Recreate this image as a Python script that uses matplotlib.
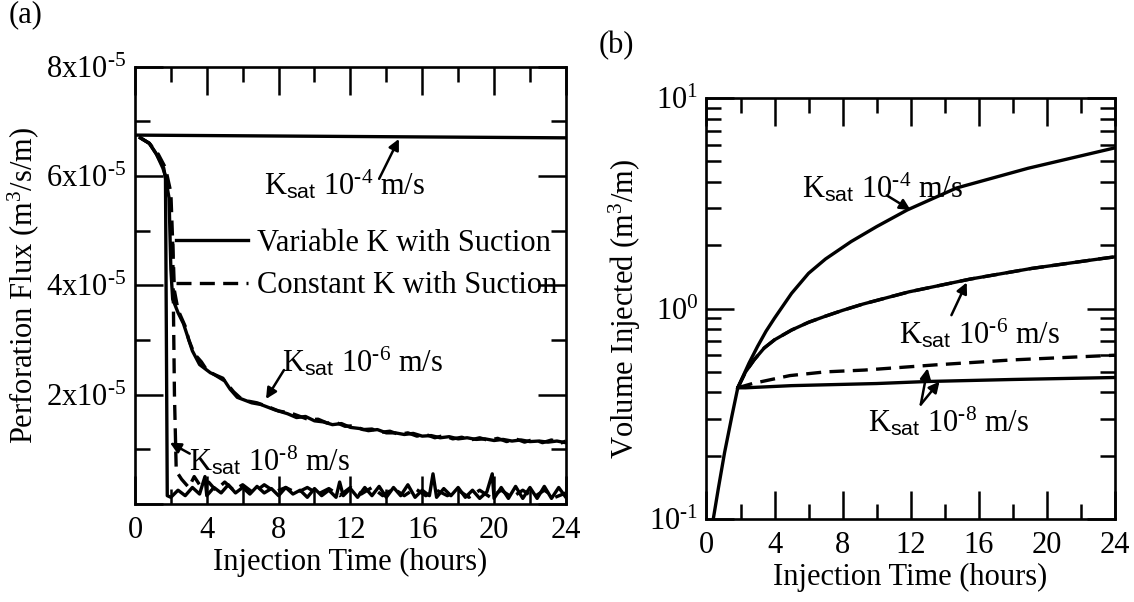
import numpy as np
import matplotlib
matplotlib.use("Agg")
import matplotlib.pyplot as plt
from matplotlib.ticker import MultipleLocator, LogLocator, NullFormatter

plt.rcParams['font.family'] = ['Liberation Serif', 'DejaVu Serif']
plt.rcParams['mathtext.fontset'] = 'custom'
plt.rcParams['mathtext.rm'] = 'Liberation Serif'
plt.rcParams['mathtext.it'] = 'Liberation Serif:italic'
plt.rcParams['mathtext.sf'] = 'Liberation Sans'
plt.rcParams['font.size'] = 22

# ---- panel (a): perforation flux, values in units of 1e-5 m3/s/m ----
t_a_k4 = [0.0, 24.0]
q_a_k4 = [6.75, 6.70]

t_a_k6_var = [0.3, 0.8, 1.2, 1.6, 1.9, 2.0, 2.1, 2.4, 2.7, 3.2, 3.6, 4.2, 4.9, 5.3, 5.7,
              6.5, 7.0, 7.8, 8.5, 9.0, 9.5, 10.0, 10.5, 11.0, 11.5, 12.0, 12.5, 13.0,
              13.5, 14.0, 14.5, 15.0, 15.5, 16.0, 16.5, 17.0, 17.5, 18.0, 18.5, 19.0,
              19.5, 20.0, 20.5, 21.0, 21.5, 22.0, 22.5, 23.0, 23.5, 24.0]
q_a_k6_var = [6.7, 6.6, 6.4, 6.15, 5.6, 4.3, 3.75, 3.5, 3.3, 2.8, 2.55, 2.4, 2.3, 2.1, 1.95,
              1.85, 1.82, 1.72, 1.65, 1.58, 1.6, 1.52, 1.5, 1.45, 1.47, 1.4, 1.38, 1.34,
              1.36, 1.3, 1.3, 1.27, 1.29, 1.24, 1.25, 1.21, 1.23, 1.19, 1.21, 1.18,
              1.19, 1.16, 1.18, 1.15, 1.17, 1.14, 1.15, 1.13, 1.15, 1.12]

t_a_k6_con = [0.3, 0.8, 1.3, 1.7, 2.0, 2.1, 2.2, 2.4, 2.8, 3.0, 3.3, 3.7, 4.0, 4.5, 5.0,
              5.5, 6.0, 6.8, 7.4, 8.0, 8.7, 9.2, 9.7, 10.2, 10.7, 11.2, 11.7, 12.2,
              12.7, 13.2, 13.7, 14.2, 14.7, 15.2, 15.7, 16.2, 16.7, 17.2, 17.7, 18.2,
              18.7, 19.2, 19.7, 20.2, 20.7, 21.2, 21.7, 22.2, 22.7, 23.2, 23.7, 24.0]
q_a_k6_con = [6.7, 6.6, 6.4, 6.15, 5.7, 4.8, 3.9, 3.55, 3.25, 3.0, 2.75, 2.6, 2.45, 2.35,
              2.25, 2.05, 1.9, 1.85, 1.78, 1.7, 1.66, 1.6, 1.54, 1.55, 1.48, 1.49, 1.42,
              1.43, 1.36, 1.37, 1.31, 1.33, 1.27, 1.3, 1.24, 1.27, 1.21, 1.25, 1.19,
              1.22, 1.17, 1.21, 1.16, 1.2, 1.14, 1.19, 1.13, 1.18, 1.12, 1.17, 1.11, 1.15]

t_a_k8_var = [0.3, 0.8, 1.2, 1.55, 1.7, 1.8, 2.0, 2.4, 2.8, 3.2, 3.6, 3.9, 4.0, 4.4, 4.8,
              5.2, 5.6, 6.0, 6.4, 6.8, 7.2, 7.6, 8.0, 8.4, 8.8, 9.2, 9.6, 10.0, 10.4,
              10.8, 11.2, 11.4, 11.6, 12.0, 12.4, 12.8, 13.2, 13.6, 14.0, 14.4, 14.8,
              15.2, 15.6, 16.0, 16.4, 16.6, 16.8, 17.2, 17.6, 18.0, 18.4, 18.8, 19.2,
              19.6, 19.9, 20.0, 20.4, 20.8, 21.2, 21.6, 22.0, 22.4, 22.8, 23.2, 23.6, 24.0]
q_a_k8_var = [6.7, 6.6, 6.4, 6.15, 6.0, 0.15, 0.12, 0.25, 0.15, 0.3, 0.18, 0.5, 0.15, 0.3,
              0.2, 0.35, 0.2, 0.3, 0.18, 0.32, 0.2, 0.28, 0.15, 0.3, 0.18, 0.25, 0.12,
              0.28, 0.15, 0.25, 0.12, 0.4, 0.15, 0.28, 0.12, 0.3, 0.15, 0.32, 0.12, 0.3,
              0.15, 0.35, 0.12, 0.25, 0.15, 0.55, 0.12, 0.28, 0.15, 0.3, 0.12, 0.25, 0.1,
              0.22, 0.55, 0.1, 0.3, 0.1, 0.32, 0.1, 0.3, 0.1, 0.32, 0.1, 0.3, 0.12]

t_a_k8_con = [2.1, 2.2, 2.3, 2.6, 3.0, 3.3, 3.7, 4.1, 4.5, 5.0, 5.5, 6.0, 6.6, 7.2, 7.8,
              8.4, 9.0, 9.6, 10.2, 10.8, 11.4, 12.0, 12.6, 13.2, 13.8, 14.4, 15.0, 15.6,
              16.2, 16.8, 17.4, 18.0, 18.6, 19.2, 19.8, 20.4, 21.0, 21.6, 22.2, 22.8,
              23.4, 24.0]
q_a_k8_con = [4.8, 2.0, 0.6, 0.45, 0.3, 0.5, 0.3, 0.4, 0.25, 0.4, 0.25, 0.35, 0.2, 0.35,
              0.22, 0.3, 0.2, 0.3, 0.18, 0.28, 0.15, 0.3, 0.18, 0.3, 0.15, 0.28, 0.15,
              0.28, 0.15, 0.25, 0.15, 0.25, 0.12, 0.25, 0.12, 0.25, 0.12, 0.25, 0.12,
              0.25, 0.12, 0.2]

# ---- panel (b): cumulative volume injected, m3/m ----
t_b_k4 = [0.4, 0.7, 1.06, 1.5, 1.84, 2.5, 3.0, 3.5, 4.0, 5.0, 6.0, 7.0, 8.5, 10.0,
          11.8, 14.7, 18.9, 24.0]
v_b_k4 = [0.1, 0.14, 0.206, 0.31, 0.42, 0.55, 0.66, 0.78, 0.9, 1.18, 1.47, 1.72, 2.08,
          2.45, 2.94, 3.74, 4.64, 5.8]

t_b_k6 = [1.84, 2.3, 2.8, 3.4, 4.0, 5.0, 6.0, 7.0, 8.0, 9.2, 11.9, 15.5, 19.1, 23.3, 24.0]
v_b_k6 = [0.42, 0.5, 0.57, 0.65, 0.71, 0.79, 0.86, 0.92, 0.98, 1.05, 1.2, 1.38, 1.55,
          1.73, 1.76]

t_b_k8_var = [1.84, 2.3, 5.0, 10.0, 13.0, 18.0, 24.0]
v_b_k8_var = [0.42, 0.42, 0.43, 0.44, 0.45, 0.46, 0.47]

t_b_k8_con = [1.84, 2.7, 4.9, 7.0, 9.3, 13.5, 18.0, 24.0]
v_b_k8_con = [0.42, 0.44, 0.48, 0.5, 0.51, 0.54, 0.57, 0.6]

x_ticks = [0, 4, 8, 12, 16, 20, 24]
y_ticks_a = [0, 2, 4, 6, 8]
y_labels_a = ['', r'2x10$^{\text{-}5}$', r'4x10$^{\text{-}5}$', r'6x10$^{\text{-}5}$',
              r'8x10$^{\text{-}5}$']
y_ticks_b = [0.1, 1, 10]
y_labels_b = [r'10$^{\text{-}1}$', r'10$^{0}$', r'10$^{1}$']

LW = 2.4
DASH = (0, (4.5, 2.5))


def style_axes(ax):
    for s in ax.spines.values():
        s.set_linewidth(1.9)
    ax.tick_params(which='both', direction='in', top=True, right=True, width=1.8)
    ax.tick_params(which='major', length=20, pad=6)
    ax.tick_params(which='minor', length=11)
    ax.tick_params(axis='x', which='major', pad=9)
    ax.set_xlim(0, 24)
    ax.set_xticks(x_ticks)
    ax.xaxis.set_minor_locator(MultipleLocator(2))
    ax.set_xlabel('Injection Time (hours)', labelpad=2)


def ksat(exp):
    return r'K$_{\mathsf{sat}}$ 10$^{\text{' + exp + r'}}$ m/s'


fig = plt.figure(figsize=(11.34, 6.02), dpi=100)
ax1 = fig.add_axes([0.119, 0.163, 0.380, 0.726])
ax2 = fig.add_axes([0.623, 0.138, 0.360, 0.699])

# (a)
style_axes(ax1)
ax1.set_ylim(0, 8)
ax1.set_yticks(y_ticks_a)
ax1.set_yticklabels(y_labels_a)
ax1.yaxis.set_minor_locator(MultipleLocator(1))
ax1.set_ylabel('Perforation Flux (m$^3$/s/m)', labelpad=4)

ax1.plot(t_a_k4, q_a_k4, 'k-', lw=LW)
ax1.plot(t_a_k6_var, q_a_k6_var, 'k-', lw=LW, label='Variable K with Suction')
ax1.plot(t_a_k6_con, q_a_k6_con, 'k', ls=DASH, lw=LW, label='Constant K with Suction')
ax1.plot(t_a_k8_var, q_a_k8_var, 'k-', lw=LW)
ax1.plot(t_a_k8_con, q_a_k8_con, 'k', ls=DASH, lw=LW)

ax1.legend(loc='upper left', bbox_to_anchor=(0.095, 0.63), frameon=False,
           handlelength=2.35, handletextpad=0.3, labelspacing=0.45,
           borderaxespad=0, borderpad=0, fontsize=22)

arrow = dict(arrowstyle='-|>', color='k', lw=1.8, mutation_scale=16, shrinkA=0, shrinkB=0)
ax1.annotate(ksat('-4'), xy=(14.7, 6.7), xytext=(7.2, 5.85), ha='left', va='center')
ax1.annotate('', xy=(14.7, 6.68), xytext=(13.6, 5.95), arrowprops=arrow)
ax1.annotate(ksat('-6'), xy=(7.6, 1.9), xytext=(8.2, 2.6), ha='left', va='center')
ax1.annotate('', xy=(7.3, 1.92), xytext=(8.3, 2.45), arrowprops=arrow)
ax1.annotate(ksat('-8'), xy=(2.0, 1.1), xytext=(3.0, 0.8), ha='left', va='center')
ax1.annotate('', xy=(1.95, 1.12), xytext=(3.05, 0.92), arrowprops=arrow)

# (b)
style_axes(ax2)
ax2.set_yscale('log')
ax2.set_ylim(0.1, 10)
ax2.set_yticks(y_ticks_b)
ax2.set_yticklabels(y_labels_b)
ax2.yaxis.set_minor_locator(LogLocator(base=10, subs=np.arange(2, 10), numticks=20))
ax2.yaxis.set_minor_formatter(NullFormatter())
ax2.set_ylabel('Volume Injected (m$^3$/m)', labelpad=4)

ax2.plot(t_b_k4, v_b_k4, 'k-', lw=LW)
ax2.plot(t_b_k6, v_b_k6, 'k-', lw=LW)
ax2.plot(t_b_k6, v_b_k6, 'k', ls=DASH, lw=LW)
ax2.plot(t_b_k8_var, v_b_k8_var, 'k-', lw=LW)
ax2.plot(t_b_k8_con, v_b_k8_con, 'k', ls=DASH, lw=LW)

ax2.annotate(ksat('-4'), xy=(12.0, 2.94), xytext=(5.6, 3.75), ha='left', va='center')
ax2.annotate('', xy=(12.0, 2.94), xytext=(10.6, 3.45), arrowprops=arrow)
ax2.annotate(ksat('-6'), xy=(15.3, 1.33), xytext=(11.3, 0.76), ha='left', va='center')
ax2.annotate('', xy=(15.3, 1.33), xytext=(14.4, 0.93), arrowprops=arrow)
ax2.annotate(ksat('-8'), xy=(13.0, 0.5), xytext=(9.5, 0.29), ha='left', va='center')
ax2.annotate('', xy=(13.0, 0.52), xytext=(12.6, 0.35), arrowprops=arrow)
ax2.annotate('', xy=(13.7, 0.45), xytext=(12.6, 0.35), arrowprops=arrow)

fig.text(0.008, 0.975, '(a)', ha='left', va='center', fontsize=22)
fig.text(0.528, 0.925, '(b)', ha='left', va='center', fontsize=22)

fig.savefig('out.png', dpi=100)
plt.close(fig)
